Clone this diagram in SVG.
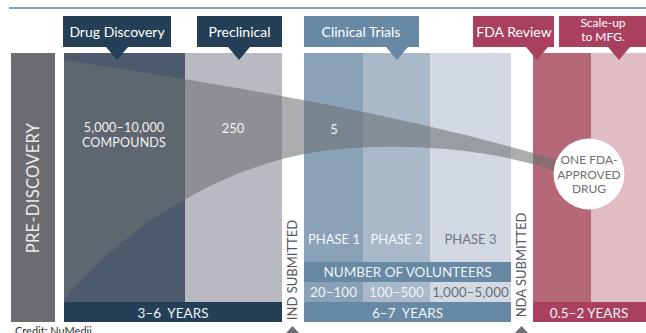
<svg xmlns="http://www.w3.org/2000/svg" width="646" height="333" viewBox="0 0 646 333">
  <defs>
    <style>
      text { font-family: Lato, "Open Sans", "Liberation Sans", sans-serif; }
      .lbl { font-size: 14px; fill: #ffffff; text-anchor: middle; }
      .lbl2 { font-size: 12px; fill: #ffffff; text-anchor: middle; }
      .cap { font-size: 13px; fill: #f2f2f2; text-anchor: middle; }
      .cap2 { font-size: 12.5px; fill: #f2f2f2; text-anchor: middle; letter-spacing: 0.2px; }
      .bar { font-size: 13.5px; fill: #eef2f6; text-anchor: middle; }
      .vert { font-size: 13px; fill: #55575c; text-anchor: middle; }
      .drug { font-size: 12px; fill: #6d6f74; text-anchor: middle; }
      .navy { fill: #253f57; }
      .steel { fill: #6889a4; }
      .wine { fill: #a9405d; }
      .tick { fill: #6d6e71; }
    </style>
  </defs>

  <!-- top rule -->
  <line x1="9" y1="8" x2="646" y2="8" stroke="#5f7f99" stroke-width="1.5"/>

  <!-- stage columns -->
  <g id="pre-discovery">
    <rect x="11" y="53" width="44" height="269" fill="#6b6c6f"/>
    <text x="0" y="0" transform="translate(39,188) rotate(-90)" font-size="16.5" fill="#ececec" text-anchor="middle" letter-spacing="0.3">PRE-DISCOVERY</text>
  </g>

  <g id="col-discovery">
    <rect x="64" y="53" width="121" height="249" fill="#4d5a6e"/>
  </g>
  <g id="col-preclinical">
    <rect x="185" y="53" width="97" height="249" fill="#b9b9c2"/>
  </g>
  <g id="col-clinical">
    <rect x="304" y="53" width="59" height="209" fill="#8aa2b7"/>
    <rect x="363" y="53" width="67" height="209" fill="#a9b9ca"/>
    <rect x="430" y="53" width="81" height="209" fill="#d3d9e3"/>
  </g>
  <g id="col-review">
    <rect x="533" y="53" width="58" height="249" fill="#b76878"/>
    <rect x="591" y="53" width="55" height="249" fill="#e0bcc3"/>
  </g>

  <!-- attrition funnel -->
  <g id="funnel">
    <path d="M64 60 C230 85 420 118 556 160 L556 172 C500 150 400 140 316 152 C230 165 130 220 64 300 Z" fill="#6c6e71" fill-opacity="0.57"/>
  </g>

  <!-- stage headers -->
  <g id="hdr-discovery">
    <path class="navy" d="M63 16 H171 V47 H128 L117 60 L106 47 H63 Z"/>
    <text class="lbl" x="117" y="37">Drug Discovery</text>
  </g>
  <g id="hdr-preclinical">
    <path class="navy" d="M197 16 H282 V47 H250 L239 60 L228 47 H197 Z"/>
    <text class="lbl" x="239.5" y="37">Preclinical</text>
  </g>
  <g id="hdr-clinical">
    <path class="steel" d="M304 16 H419 V47 H408 L397 60 L386 47 H304 Z"/>
    <text class="lbl" x="361" y="37">Clinical Trials</text>
  </g>
  <g id="hdr-review">
    <path class="wine" d="M473 16 H554 V47 H548 L537 60 L526 47 H473 Z"/>
    <text class="lbl" x="514" y="37">FDA Review</text>
  </g>
  <g id="hdr-scaleup">
    <path class="wine" d="M559 16 H646 V47 H630 L619 60 L608 47 H559 Z"/>
    <text class="lbl2" x="603" y="26.5">Scale-up</text>
    <text class="lbl2" x="603" y="41">to MFG.</text>
  </g>

  <!-- counts -->
  <g id="counts">
    <text class="cap2" x="124" y="131.5">5,000–10,000</text>
    <text class="cap2" x="124" y="146.5">COMPOUNDS</text>
    <text class="cap" x="233" y="133">250</text>
    <text class="cap" x="334" y="134">5</text>
  </g>

  <!-- approved drug -->
  <g id="approved">
    <circle cx="589" cy="174" r="35.5" fill="#ffffff"/>
    <text class="drug" x="589" y="164">ONE FDA-</text>
    <text class="drug" x="589" y="178.5">APPROVED</text>
    <text class="drug" x="589" y="193">DRUG</text>
  </g>

  <!-- clinical phases -->
  <g id="phases">
    <text x="334" y="244" font-size="13" fill="#f4f6f8" text-anchor="middle">PHASE 1</text>
    <text x="396.5" y="244" font-size="13" fill="#f4f6f8" text-anchor="middle">PHASE 2</text>
    <text x="470.5" y="244" font-size="13" fill="#6f7480" text-anchor="middle">PHASE 3</text>
  </g>

  <g id="volunteers">
    <rect class="steel" x="304" y="262" width="207" height="20"/>
    <text class="bar" x="407.5" y="277">NUMBER OF VOLUNTEERS</text>
    <rect x="304" y="282" width="59" height="20" fill="#8aa2b7"/>
    <rect x="363" y="282" width="67" height="20" fill="#a9b9ca"/>
    <rect x="430" y="282" width="81" height="20" fill="#d3d9e3"/>
    <text class="bar" x="333.5" y="297">20–100</text>
    <text class="bar" x="396.5" y="297">100–500</text>
    <text x="470.5" y="297" font-size="13.5" fill="#6a6f78" text-anchor="middle">1,000–5,000</text>
  </g>

  <!-- durations -->
  <g id="dur-discovery">
    <rect class="navy" x="64" y="302" width="218" height="20"/>
    <text class="bar" x="173" y="317.5" xml:space="preserve">3–6  YEARS</text>
  </g>
  <g id="dur-clinical">
    <rect class="steel" x="304" y="302" width="207" height="20"/>
    <text class="bar" x="407.5" y="317.5" xml:space="preserve">6–7  YEARS</text>
  </g>
  <g id="dur-review">
    <rect class="wine" x="533" y="302" width="113" height="20"/>
    <text class="bar" x="589" y="317.5">0.5–2 YEARS</text>
  </g>

  <!-- submission milestones -->
  <g id="ind">
    <text class="vert" x="0" y="0" transform="translate(297,270) rotate(-90)">IND SUBMITTED</text>
    <path class="tick" d="M292.5 326 L299 333 L286 333 Z"/>
  </g>
  <g id="nda">
    <text class="vert" x="0" y="0" transform="translate(526,265) rotate(-90)">NDA SUBMITTED</text>
    <path class="tick" d="M521.5 326 L528 333 L515 333 Z"/>
  </g>

  <text x="15" y="335" font-size="11" fill="#333333">Credit: NuMedii</text>
</svg>
